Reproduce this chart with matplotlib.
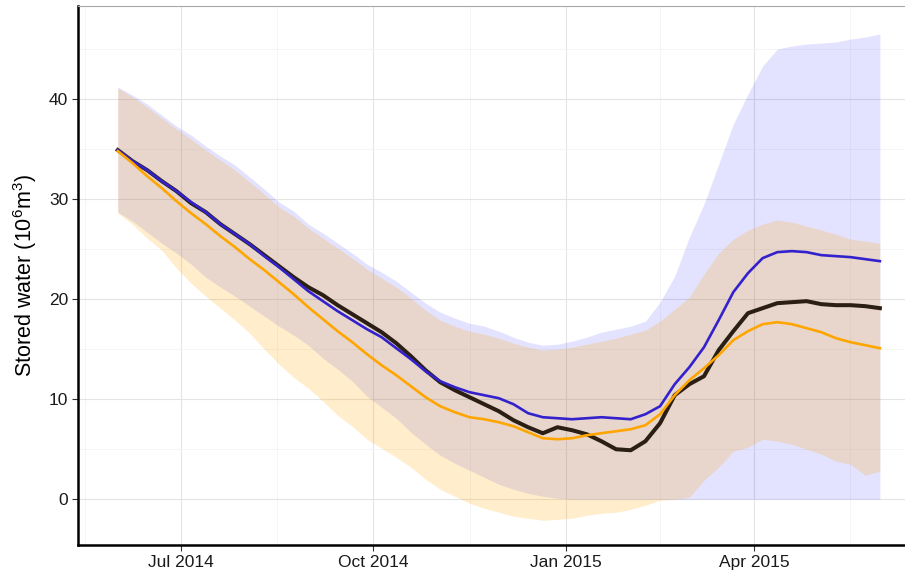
import numpy as np
import pandas as pd
import matplotlib

matplotlib.use('Agg')
import matplotlib.pyplot as plt
import matplotlib.dates as mdates
from matplotlib.ticker import FixedLocator

# weekly readings, 1 Jun 2014 .. 31 May 2015
dates = pd.date_range('2014-06-01', periods=53, freq='7D')

observed = [34.9, 33.8, 32.9, 31.8, 30.8, 29.6, 28.7, 27.5, 26.5, 25.5,
            24.4, 23.3, 22.2, 21.2, 20.4, 19.4, 18.5, 17.6, 16.7, 15.6,
            14.3, 12.9, 11.7, 10.9, 10.2, 9.5, 8.8, 7.9, 7.2, 6.6,
            7.2, 6.9, 6.5, 5.8, 5.0, 4.9, 5.8, 7.6, 10.4, 11.5,
            12.3, 14.9, 16.8, 18.6, 19.1, 19.6, 19.7, 19.8, 19.5, 19.4,
            19.4, 19.3, 19.1]

blue_mean = [34.9, 33.8, 32.9, 31.8, 30.8, 29.7, 28.7, 27.5, 26.5, 25.5,
             24.3, 23.2, 22.0, 20.8, 19.8, 18.8, 17.9, 17.0, 16.2, 15.1,
             14.0, 12.8, 11.8, 11.2, 10.7, 10.4, 10.1, 9.5, 8.6, 8.2,
             8.1, 8.0, 8.1, 8.2, 8.1, 8.0, 8.5, 9.3, 11.5, 13.2,
             15.2, 17.9, 20.7, 22.6, 24.1, 24.7, 24.8, 24.7, 24.4, 24.3,
             24.2, 24.0, 23.8]
blue_hi = [41.2, 40.4, 39.5, 38.4, 37.3, 36.4, 35.3, 34.3, 33.4, 32.2,
           31.0, 29.7, 28.8, 27.5, 26.6, 25.6, 24.6, 23.5, 22.7, 21.8,
           20.7, 19.6, 18.7, 18.1, 17.6, 17.3, 16.8, 16.2, 15.7, 15.4,
           15.5, 15.8, 16.2, 16.7, 17.0, 17.3, 17.8, 19.7, 22.3, 26.2,
           29.5, 33.5, 37.5, 40.5, 43.3, 45.0, 45.3, 45.5, 45.6, 45.7,
           46.0, 46.2, 46.5]
blue_lo = [28.7, 27.8, 26.7, 25.6, 24.6, 23.5, 22.2, 21.2, 20.3, 19.3,
           18.3, 17.3, 16.4, 15.4, 14.1, 13.0, 11.8, 10.3, 9.2, 8.1,
           6.7, 5.5, 4.4, 3.6, 2.9, 2.2, 1.5, 1.0, 0.6, 0.3,
           0.1, 0.0, 0.0, 0.0, 0.0, 0.0, 0.0, 0.0, 0.0, 0.0,
           0.0, 0.0, 0.0, 0.0, 0.0, 0.0, 0.0, 0.0, 0.0, 0.0,
           0.0, 0.0, 0.0]

orange_mean = [34.8, 33.6, 32.3, 31.1, 29.8, 28.6, 27.5, 26.3, 25.2, 24.0,
               22.9, 21.7, 20.5, 19.2, 18.0, 16.8, 15.7, 14.5, 13.4, 12.4,
               11.3, 10.2, 9.3, 8.7, 8.2, 8.0, 7.7, 7.3, 6.7, 6.1,
               6.0, 6.1, 6.4, 6.6, 6.8, 7.0, 7.4, 8.5, 10.4, 11.9,
               13.1, 14.4, 15.9, 16.8, 17.5, 17.7, 17.5, 17.1, 16.7, 16.1,
               15.7, 15.4, 15.1]
orange_hi = [41.1, 40.2, 39.2, 38.1, 37.0, 36.0, 34.9, 33.9, 32.9, 31.7,
             30.5, 29.2, 28.3, 27.1, 26.1, 25.1, 24.1, 23.0, 22.1, 21.2,
             20.1, 18.9, 17.9, 17.3, 16.8, 16.5, 16.1, 15.6, 15.2, 14.9,
             15.0, 15.2, 15.5, 15.8, 16.1, 16.5, 16.9, 17.8, 19.0, 20.2,
             22.5, 24.6, 26.0, 26.9, 27.5, 27.9, 27.7, 27.3, 26.9, 26.5,
             26.0, 25.8, 25.6]
orange_lo = [28.6, 27.5, 26.1, 24.9, 23.1, 21.6, 20.3, 19.1, 17.9, 16.6,
             15.0, 13.5, 12.2, 11.1, 9.8, 8.4, 7.3, 6.0, 5.1, 4.2,
             3.2, 2.0, 1.0, 0.3, -0.4, -0.9, -1.3, -1.7, -1.9, -2.1,
             -2.0, -1.9, -1.6, -1.4, -1.3, -1.0, -0.6, -0.1, 0.0, 0.2,
             1.9, 3.2, 4.8, 5.2, 6.0, 5.8, 5.5, 5.0, 4.5, 3.8,
             3.5, 2.4, 2.8]

y_ticks = [0, 10, 20, 30, 40]
y_minor = [5, 15, 25, 35, 45]

plt.rcParams['font.family'] = ['Liberation Sans', 'DejaVu Sans']
plt.rcParams['mathtext.fontset'] = 'custom'
plt.rcParams['mathtext.rm'] = 'Liberation Sans'
plt.rcParams['mathtext.default'] = 'rm'

fig = plt.figure(figsize=(9.05, 5.70), dpi=100)
ax = fig.add_axes([78 / 905, 1 - 545 / 570, 1 - 78 / 905, 539 / 570])

ax.fill_between(dates, blue_lo, blue_hi, color='blue', alpha=0.11, lw=0)
ax.fill_between(dates, orange_lo, orange_hi, color='orange', alpha=0.2, lw=0)
ax.plot(dates, observed, color='#2B1F14', lw=2.9)
ax.plot(dates, blue_mean, color='#3322CC', lw=1.9)
ax.plot(dates, orange_mean, color='#FFA500', lw=1.9)

ax.set_xlim(pd.Timestamp('2014-05-13'), pd.Timestamp('2015-06-12'))
ax.set_ylim(-4.57, 49.3)

# quarterly date breaks, minor grid halfway between them
ax.xaxis.set_major_locator(mdates.MonthLocator(bymonth=[1, 4, 7, 10]))
ax.xaxis.set_major_formatter(mdates.DateFormatter('%b %Y'))
quarters = pd.date_range('2014-04-01', '2015-07-01', freq='QS')
mids = quarters[:-1] + (quarters[1:] - quarters[:-1]) / 2
ax.xaxis.set_minor_locator(FixedLocator(mdates.date2num(mids.to_pydatetime())))
ax.set_yticks(y_ticks)
ax.yaxis.set_minor_locator(FixedLocator(y_minor))

ax.set_axisbelow(True)
ax.grid(which='major', color='#E4E4E4', lw=0.8)
ax.grid(which='minor', color='#F4F4F4', lw=0.6)

ax.tick_params(which='major', length=4, width=0.8, color='#333333',
               labelsize=12.5, labelcolor='#1a1a1a', pad=3)
ax.tick_params(which='minor', length=0)

for side in ['left', 'bottom']:
    ax.spines[side].set_linewidth(1.8)
    ax.spines[side].set_color('black')
ax.spines['top'].set_color('#A8A8A8')
ax.spines['top'].set_linewidth(0.8)
ax.spines['right'].set_visible(False)

ax.set_ylabel(r'Stored water (10$^{6}$m$^{3}$)', fontsize=15.5, labelpad=7)

plt.savefig('out.png', dpi=100)
